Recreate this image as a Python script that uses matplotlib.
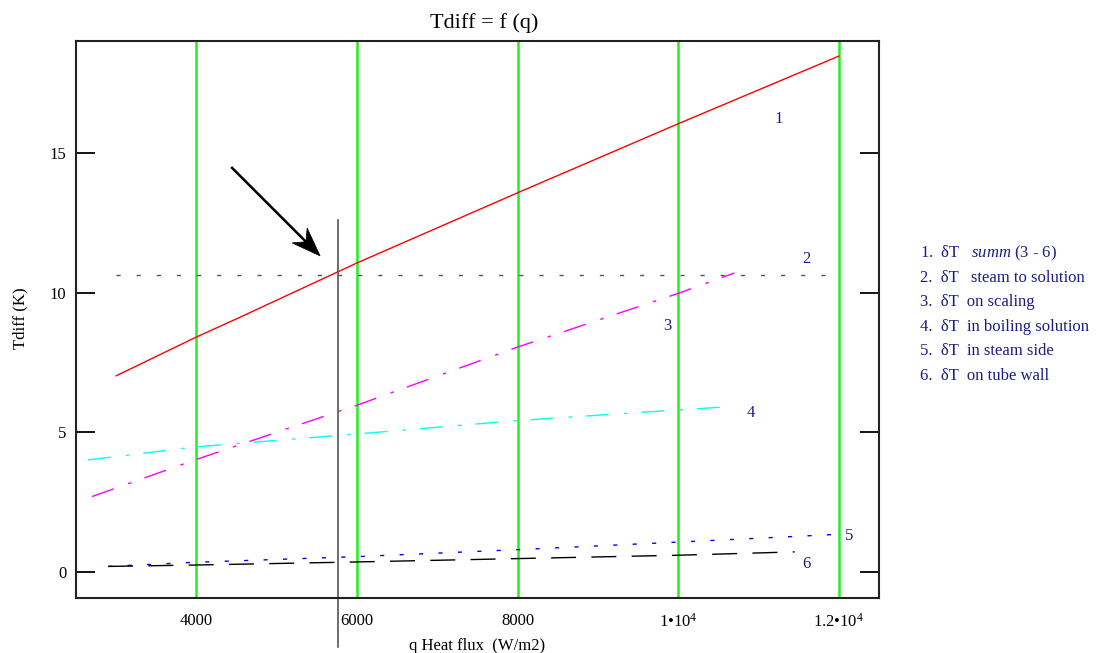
import matplotlib
matplotlib.use("Agg")
import matplotlib.pyplot as plt
import numpy as np
from matplotlib.patches import Polygon
from matplotlib.transforms import IdentityTransform

plt.rcParams['font.family'] = ['Liberation Serif', 'DejaVu Serif']
plt.rcParams['mathtext.fontset'] = 'custom'
plt.rcParams['mathtext.rm'] = 'Liberation Serif'
plt.rcParams['mathtext.it'] = 'Liberation Serif:italic'

# ---- data ----
q1 = [3000, 4000, 4500, 6000, 8000, 10000, 12000]
t1 = [7.02, 8.41, 9.06, 11.06, 13.57, 16.04, 18.46]          # summ
q3 = [2700, 4000, 6000, 8000, 10000, 10700]
t3 = [2.7, 4.03, 5.97, 8.05, 9.97, 10.7]                        # on scaling
q4 = [2650, 4000, 6000, 8000, 10000, 10550]
t4 = [4.01, 4.48, 4.94, 5.42, 5.8, 5.9]                         # boiling solution
q5 = [2900, 4000, 6000, 8000, 10000, 12000]
t5 = [0.2, 0.35, 0.55, 0.8, 1.07, 1.35]                         # steam side
q6 = [2900, 4000, 6000, 8000, 10000, 11450]
t6 = [0.2, 0.25, 0.36, 0.48, 0.6, 0.72]                         # tube wall
q_ref = [3000, 12000]
t_ref = [10.63, 10.63]                                          # horizontal dotted level
q_mark = 5765
t_mark = [12.6, -2.7]
arrow_from = (4444, 14.46)
arrow_to = (5540, 11.31)
x_ticks = [4000, 6000, 8000, 10000, 12000]
x_ticklabels = ['4000', '6000', '8000', r'1•10$^{4}$', r'1.2•10$^{4}$']
y_ticks = [0, 5, 10, 15]
curve_labels = ['1', '2', '3', '4', '5', '6']
curve_label_pos = [(11250, 16.2), (11600, 11.2), (9860, 8.8), (10900, 5.7), (12130, 1.3), (11600, 0.3)]
legend_lines = [r'1.  δT   $\it{summ}$ (3 - 6)', '2.  δT   steam to solution', '3.  δT  on scaling',
                '4.  δT  in boiling solution', '5.  δT  in steam side', '6.  δT  on tube wall']

navy = '#1c1c84'
FS = 12

fig = plt.figure(figsize=(10.96, 6.53), dpi=100)
ax = fig.add_axes([76/1096, 1-598/653, (879-76)/1096, (598-41)/653])
ax.set_xlim(2500, 12500)
ax.set_ylim(-0.93, 19.0)

for xv in x_ticks:
    ax.axvline(xv, color='#22ee22', lw=1.8, zorder=1)

ax.plot(q_ref, t_ref, color='#555555', lw=1, dashes=(3, 11.5))
ax.plot(q1, t1, color='red', lw=1)
ax.plot(q3, t3, color='magenta', lw=1, dashes=(16.5, 11, 2.5, 10))
ax.plot(q4, t4, color='cyan', lw=1, dashes=(16.5, 11, 2.5, 10))
ax.plot(q5, t5, color='blue', lw=1, dashes=(3, 11))
ax.plot(q6, t6, color='black', lw=1, dashes=(18, 11))
ax.plot([q_mark, q_mark], t_mark, color='#555555', lw=1.2, clip_on=False)

for lab, (xx, yy) in zip(curve_labels, curve_label_pos):
    ax.text(xx, yy, lab, color=navy, fontsize=FS, ha='center', va='center')

# arrow with notched head, built in display space
p0 = ax.transData.transform(arrow_from)
p1 = ax.transData.transform(arrow_to)
d = (p1 - p0) / np.linalg.norm(p1 - p0)
n = np.array([-d[1], d[0]])
head_len, half_w, notch = 29.0, 10.6, 20.0
base = p1 - d * notch
ax.add_line(plt.Line2D([p0[0], base[0]], [p0[1], base[1]], color='black', lw=1.8,
                       transform=IdentityTransform()))
head = np.array([p1, p1 - d * head_len + n * half_w, base, p1 - d * head_len - n * half_w])
ax.add_patch(Polygon(head, closed=True, facecolor='black', edgecolor='black', lw=0.5,
                     transform=IdentityTransform(), clip_on=False))

ax.set_xticks(x_ticks)
ax.set_xticklabels(x_ticklabels, fontsize=FS)
ax.set_yticks(y_ticks)
ax.set_yticklabels([str(v) for v in y_ticks], fontsize=FS)
ax.tick_params(axis='x', length=0, pad=11)
ax.tick_params(axis='y', direction='in', length=14, width=1.3, pad=7, right=True)
for s in ax.spines.values():
    s.set_linewidth(1.5)
    s.set_color('#222222')

fig.text(484/1096, 1-23/653, 'Tdiff = f (q)', ha='center', va='center', fontsize=16)
fig.text(20/1096, 1-318/653, 'Tdiff (K)', ha='center', va='center', rotation=90, fontsize=FS)
fig.text(477/1096, 1-646/653, 'q Heat flux  (W/m2)', ha='center', va='center', fontsize=FS)

for i, line in enumerate(legend_lines):
    fig.text(920/1096, 1-(253 + 24.6*i)/653, line, ha='left', va='center', fontsize=FS, color=navy)

fig.savefig('out.png', dpi=100)
